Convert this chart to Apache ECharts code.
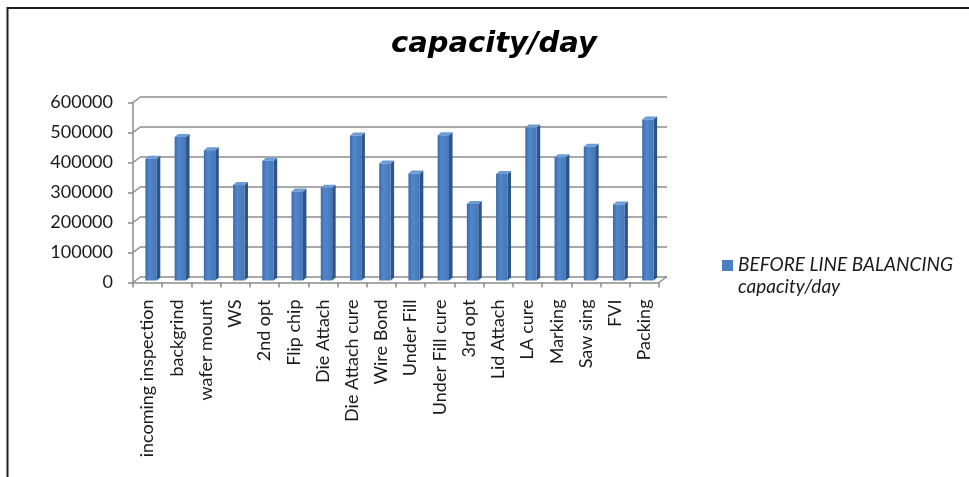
<!DOCTYPE html>
<html>
<head>
<meta charset="utf-8">
<script src="https://cdn.jsdelivr.net/npm/echarts@6/dist/echarts.min.js"></script>
<style>
  html, body { margin: 0; padding: 0; background: #ffffff; overflow: hidden; }
  #chart { width: 969px; height: 477px; }
</style>
</head>
<body>
<div id="chart"></div>
<script>
// Process steps along the line
const categories = [
  'incoming inspection', 'backgrind', 'wafer mount', 'WS', '2nd opt', 'Flip chip',
  'Die Attach', 'Die Attach cure', 'Wire Bond', 'Under Fill', 'Under Fill cure',
  '3rd opt', 'Lid Attach', 'LA cure', 'Marking', 'Saw sing', 'FVI', 'Packing'
];

// Capacity per day for each step, before line balancing
const capacity = [
  406000, 478000, 434000, 318000, 399000, 297000,
  309000, 483000, 390000, 357000, 484000,
  255000, 355000, 510000, 411000, 446000, 253000, 537000
];

// Value axis ticks
const yTicks = [0, 100000, 200000, 300000, 400000, 500000, 600000];

const seriesName = 'BEFORE LINE BALANCING\ncapacity/day';
const chartTitle = 'capacity/day';

// Pseudo-3D depth offsets (pixels)
const WALL_DX = 8, WALL_DY = -6;   // back wall relative to front plane
const BAR_DX = 3.5, BAR_DY = -3;   // column depth
const BAR_PLANE_DY = -2;           // column front faces sit slightly behind the floor edge

const gridColor = '#8c8c8c';

function renderColumn(params, api) {
  const i = api.value(0);
  const v = api.value(1);
  const base = api.coord([i, 0]);
  const top = api.coord([i, v]);
  const band = api.size([1, 0])[0];
  const bw = band * 0.39;
  const cx = base[0] + band * 0.12;
  const x0 = cx - bw / 2, x1 = cx + bw / 2;
  const yb = base[1] + BAR_PLANE_DY, yt = top[1] + BAR_PLANE_DY;
  return {
    type: 'group',
    children: [
      {
        type: 'polygon',
        shape: { points: [[x1, yt], [x1 + BAR_DX, yt + BAR_DY], [x1 + BAR_DX, yb + BAR_DY], [x1, yb]] },
        style: { fill: '#2c5487' }
      },
      {
        type: 'polygon',
        shape: { points: [[x0, yt], [x0 + BAR_DX, yt + BAR_DY], [x1 + BAR_DX, yt + BAR_DY], [x1, yt]] },
        style: { fill: '#6c9bd6' }
      },
      {
        type: 'rect',
        shape: { x: x0, y: yt, width: bw, height: yb - yt },
        style: {
          fill: new echarts.graphic.LinearGradient(0, 0, 1, 0, [
            { offset: 0, color: '#3b6aa8' },
            { offset: 0.35, color: '#5187cb' },
            { offset: 1, color: '#4676b7' }
          ])
        }
      }
    ]
  };
}

// Slanted side-wall edges joining the front value axis to the back wall gridlines,
// plus the right-hand edge of the floor
function renderWall(params, api) {
  const v = api.value(1);
  const cs = params.coordSys;
  const y = api.coord([0, v])[1];
  const children = [{
    type: 'line',
    shape: { x1: cs.x, y1: y, x2: cs.x + WALL_DX, y2: y + WALL_DY },
    style: { stroke: gridColor, lineWidth: 1.5 }
  }];
  if (v === 0) {
    const xr = cs.x + cs.width;
    children.push({
      type: 'line',
      shape: { x1: xr, y1: y, x2: xr + WALL_DX, y2: y + WALL_DY },
      style: { stroke: gridColor, lineWidth: 1.5 }
    });
  }
  return { type: 'group', children: children };
}

const frontGrid = { left: 133, top: 102.5, width: 526, height: 180 };
const backGrid = {
  left: frontGrid.left + WALL_DX, top: frontGrid.top + WALL_DY,
  width: frontGrid.width, height: frontGrid.height
};

const option = {
  animation: false,
  backgroundColor: '#ffffff',
  title: {
    text: chartTitle,
    left: 391,
    top: 30,
    padding: 0,
    textStyle: {
      fontFamily: 'DejaVu Sans',
      fontStyle: 'italic',
      fontWeight: 'bold',
      fontSize: 29,
      color: '#000000'
    }
  },
  legend: {
    left: 722,
    top: 254,
    padding: 0,
    orient: 'vertical',
    itemWidth: 11,
    itemHeight: 44,
    itemGap: 5,
    selectedMode: false,
    data: [{ name: seriesName, icon: 'path://M0,6H11V17H0Z M0,0H0.01 M0,44H0.01' }],
    textStyle: {
      fontFamily: 'Lato',
      fontStyle: 'italic',
      fontSize: 19,
      lineHeight: 22,
      color: '#1a1a1a'
    }
  },
  graphic: [{
    type: 'rect',
    shape: { x: 7.5, y: 8, width: 1200, height: 800 },
    style: { fill: 'none', stroke: '#1e1e1e', lineWidth: 2 },
    silent: true,
    z: 100
  }],
  grid: [
    Object.assign({ containLabel: false }, frontGrid),
    Object.assign({ containLabel: false }, backGrid)
  ],
  xAxis: [
    {
      type: 'category',
      gridIndex: 0,
      data: categories,
      boundaryGap: true,
      axisLine: { show: true, lineStyle: { color: gridColor, width: 1.5 } },
      axisTick: { show: true, length: 5, lineStyle: { color: gridColor, width: 1.5 } },
      axisLabel: {
        rotate: 90,
        margin: 17,
        interval: 0,
        padding: [8, 0, 0, 0],
        fontFamily: 'Lato',
        fontSize: 18,
        color: '#1a1a1a'
      },
      splitLine: { show: false }
    },
    {
      type: 'category',
      gridIndex: 1,
      data: categories,
      show: false
    }
  ],
  yAxis: [
    {
      type: 'value',
      gridIndex: 0,
      min: yTicks[0],
      max: yTicks[yTicks.length - 1],
      interval: yTicks[1] - yTicks[0],
      axisLine: { show: true, lineStyle: { color: gridColor, width: 1.5 } },
      axisTick: { show: true, length: 5, lineStyle: { color: gridColor, width: 1.5 } },
      axisLabel: {
        margin: 20,
        fontFamily: 'Lato',
        fontSize: 18,
        color: '#1a1a1a',
        formatter: function (v) { return String(v); }
      },
      splitLine: { show: false }
    },
    {
      type: 'value',
      gridIndex: 1,
      min: yTicks[0],
      max: yTicks[yTicks.length - 1],
      interval: yTicks[1] - yTicks[0],
      axisLine: { show: false },
      axisTick: { show: false },
      axisLabel: { show: false },
      splitLine: { show: true, lineStyle: { color: gridColor, width: 1.5 } }
    }
  ],
  series: [
    {
      name: 'wall',
      type: 'custom',
      xAxisIndex: 0,
      yAxisIndex: 0,
      silent: true,
      renderItem: renderWall,
      data: yTicks.map(function (t) { return [0, t]; }),
      z: 1
    },
    {
      name: seriesName,
      type: 'custom',
      xAxisIndex: 0,
      yAxisIndex: 0,
      renderItem: renderColumn,
      itemStyle: { color: '#4a7ebe' },
      encode: { x: 0, y: 1 },
      data: capacity.map(function (v, i) { return [i, v]; }),
      z: 3
    }
  ]
};

const chart = echarts.init(document.getElementById('chart'), null, { renderer: 'canvas' });
chart.setOption(option);
</script>
</body>
</html>
